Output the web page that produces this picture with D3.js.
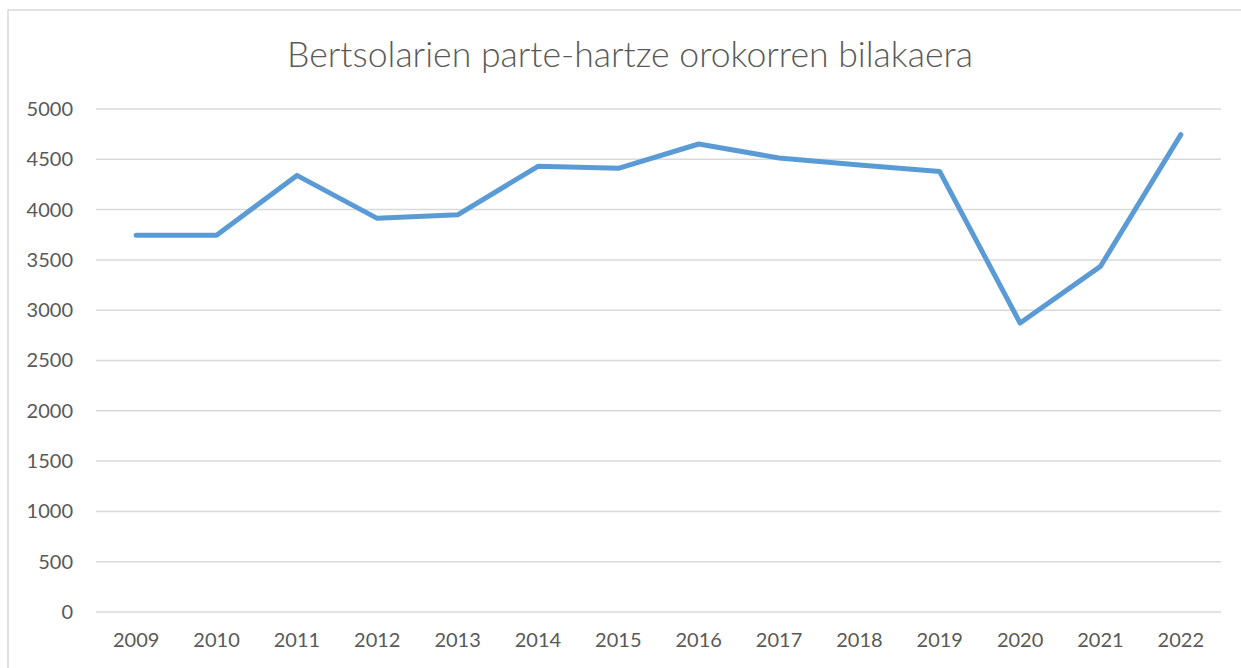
<!DOCTYPE html>
<html>
<head>
<meta charset="utf-8">
<script src="https://cdn.jsdelivr.net/npm/d3@7"></script>
<style>
  html, body { margin: 0; padding: 0; background: #fff; }
  svg { display: block; }
  text { font-family: Lato, "Open Sans", sans-serif; fill: #595959; }
</style>
</head>
<body>
<div id="chart"></div>
<script>
// data
const years = ["2009","2010","2011","2012","2013","2014","2015","2016","2017","2018","2019","2020","2021","2022"];
const partaideak = [3745, 3745, 4340, 3913, 3948, 4430, 4410, 4652, 4513, 4443, 4378, 2872, 3436, 4745];
const yTicks = [0, 500, 1000, 1500, 2000, 2500, 3000, 3500, 4000, 4500, 5000];
const title = "Bertsolarien parte-hartze orokorren bilakaera";

const W = 1241, H = 668;
const margin = {left: 96, right: 20, top: 109, bottom: 56};

let svg = d3.select("#chart").append("svg")
    .attr("width", W).attr("height", H);

// chart frame
svg.append("rect")
    .attr("x", 8).attr("y", 10)
    .attr("width", W + 20).attr("height", H + 20)
    .attr("fill", "none")
    .attr("stroke", "#d9d9d9")
    .attr("stroke-width", 1.5);

let x = d3.scaleBand()
    .domain(years)
    .range([margin.left, W - margin.right]);

let y = d3.scaleLinear()
    .domain([0, 5000])
    .range([H - margin.bottom, margin.top]);

// gridlines
svg.append("g")
    .selectAll("line")
    .data(yTicks)
    .enter().append("line")
    .attr("x1", margin.left)
    .attr("x2", W - margin.right)
    .attr("y1", d => y(d))
    .attr("y2", d => y(d))
    .attr("stroke", "#d9d9d9")
    .attr("stroke-width", 1.5);

// y axis labels
let yAxis = d3.axisLeft(y).tickValues(yTicks).tickFormat(d3.format("d")).tickSize(0).tickPadding(0);
let gy = svg.append("g")
    .attr("transform", "translate(73,0)")
    .call(yAxis);
gy.select(".domain").remove();
gy.selectAll("text")
    .style("font-size", "20px")
    .style("font-family", "Lato, 'Open Sans', sans-serif")
    .attr("fill", "#595959");

// x axis labels
let xAxis = d3.axisBottom(x).tickSize(0).tickPadding(0);
let gx = svg.append("g")
    .attr("transform", "translate(0," + (H - margin.bottom + 21) + ")")
    .call(xAxis);
gx.select(".domain").remove();
gx.selectAll("text")
    .style("font-size", "20px")
    .style("font-family", "Lato, 'Open Sans', sans-serif")
    .attr("fill", "#595959");

// line
let line = d3.line()
    .x((d, i) => x(years[i]) + x.bandwidth() / 2)
    .y(d => y(d));

svg.append("path")
    .datum(partaideak)
    .attr("d", line)
    .attr("fill", "none")
    .attr("stroke", "#5b9bd5")
    .attr("stroke-width", 5)
    .attr("stroke-linejoin", "round")
    .attr("stroke-linecap", "round");

// title
svg.append("text")
    .attr("x", 630)
    .attr("y", 67)
    .attr("text-anchor", "middle")
    .style("font-size", "35.6px")
    .style("font-weight", 300)
    .text(title);
</script>
</body>
</html>
